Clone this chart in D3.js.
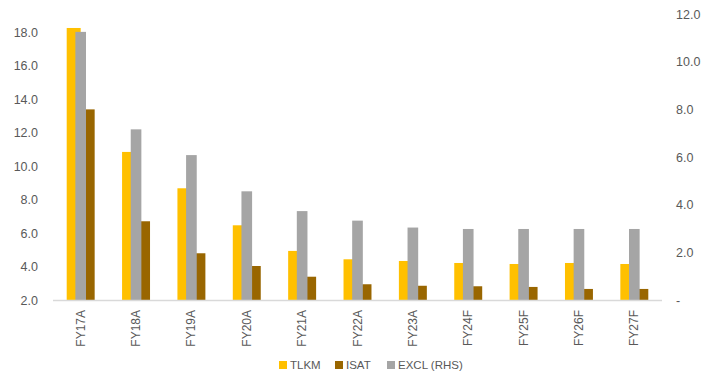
<!DOCTYPE html>
<html><head><meta charset="utf-8">
<script src="https://cdn.jsdelivr.net/npm/d3@7/dist/d3.min.js"></script>
<style>body{margin:0;background:#fff}text{font-family:"Liberation Sans",Arial,sans-serif;fill:#595959}</style>
</head><body>
<script>
const categories = ["FY17A","FY18A","FY19A","FY20A","FY21A","FY22A","FY23A","FY24F","FY25F","FY26F","FY27F"];
const tlkm = [18.24,10.84,8.67,6.46,4.93,4.43,4.33,4.21,4.15,4.21,4.15];
const isat = [13.38,6.70,4.79,4.03,3.39,2.94,2.85,2.82,2.78,2.66,2.66];
const excl = [11.25,7.16,6.08,4.56,3.73,3.33,3.04,2.98,2.98,2.98,2.98];
const leftTicks = [2,4,6,8,10,12,14,16,18];
const rightTicks = [0,2,4,6,8,10,12];
const seriesNames = ["TLKM","ISAT","EXCL (RHS)"];
const colors = {"TLKM":"#FFC000","ISAT":"#996600","EXCL (RHS)":"#A5A5A5"};

const W=723,H=376;
const svg=d3.select("body").append("svg").attr("width",W).attr("height",H);
const x=d3.scaleBand().domain(categories).range([53,662]).padding(0);
const yL=d3.scaleLinear().domain([2,18]).range([300,32]);
const yR=d3.scaleLinear().domain([0,12]).range([300,14]);
const sub=d3.scaleBand().domain(["TLKM","ISAT"]).range([0,x.bandwidth()]).paddingInner(0).paddingOuter(0.98);
const subR=d3.scaleBand().domain(["EXCL (RHS)"]).range([0,x.bandwidth()]).paddingOuter(2.1);

// left axis
const axL=d3.axisLeft(yL).tickValues(leftTicks).tickFormat(d3.format(".1f")).tickSize(0).tickPadding(0);
const gL=svg.append("g").attr("transform","translate(38,0)").call(axL);
gL.select(".domain").remove();
gL.selectAll("text").attr("font-size","12.5px").style("fill","#595959").attr("font-family","Liberation Sans, Arial, sans-serif");
// right axis
const axR=d3.axisRight(yR).tickValues(rightTicks).tickFormat(d=>d===0?"-":d3.format(".1f")(d)).tickSize(0).tickPadding(0);
const gR=svg.append("g").attr("transform","translate(676,0)").call(axR);
gR.select(".domain").remove();
gR.selectAll("text").attr("font-size","12.5px").style("fill","#595959").attr("font-family","Liberation Sans, Arial, sans-serif");

// bars
const prim=[["TLKM",tlkm],["ISAT",isat]];
prim.forEach(([name,vals])=>{
  svg.append("g").selectAll("rect").data(categories).join("rect")
    .attr("x",(c)=>x(c)+sub(name))
    .attr("width",sub.bandwidth())
    .attr("y",(c,i)=>yL(vals[i]))
    .attr("height",(c,i)=>yL(2)-yL(vals[i]))
    .attr("fill",colors[name]);
});
svg.append("g").selectAll("rect").data(categories).join("rect")
  .attr("x",(c)=>x(c)+subR("EXCL (RHS)"))
  .attr("width",subR.bandwidth())
  .attr("y",(c,i)=>yR(excl[i]))
  .attr("height",(c,i)=>yR(0)-yR(excl[i]))
  .attr("fill",colors["EXCL (RHS)"]);

// x axis line
svg.append("line").attr("x1",53).attr("x2",662).attr("y1",300.5).attr("y2",300.5).attr("stroke","#d9d9d9").attr("stroke-width",1.5);

// x labels
svg.append("g").selectAll("text").data(categories).join("text")
  .attr("transform",c=>`translate(${x(c)+x.bandwidth()/2+4},310) rotate(-90)`)
  .attr("text-anchor","end")
  .attr("font-size","12px")
  .text(c=>c);

// legend
const legX=[279,335,387];
const lg=svg.append("g");
seriesNames.forEach((n,i)=>{
  lg.append("rect").attr("x",legX[i]).attr("y",361).attr("width",8).attr("height",8).attr("fill",colors[n]);
  lg.append("text").attr("x",legX[i]+11).attr("y",369).attr("font-size","11.5px").text(n);
});
</script>
</body></html>
